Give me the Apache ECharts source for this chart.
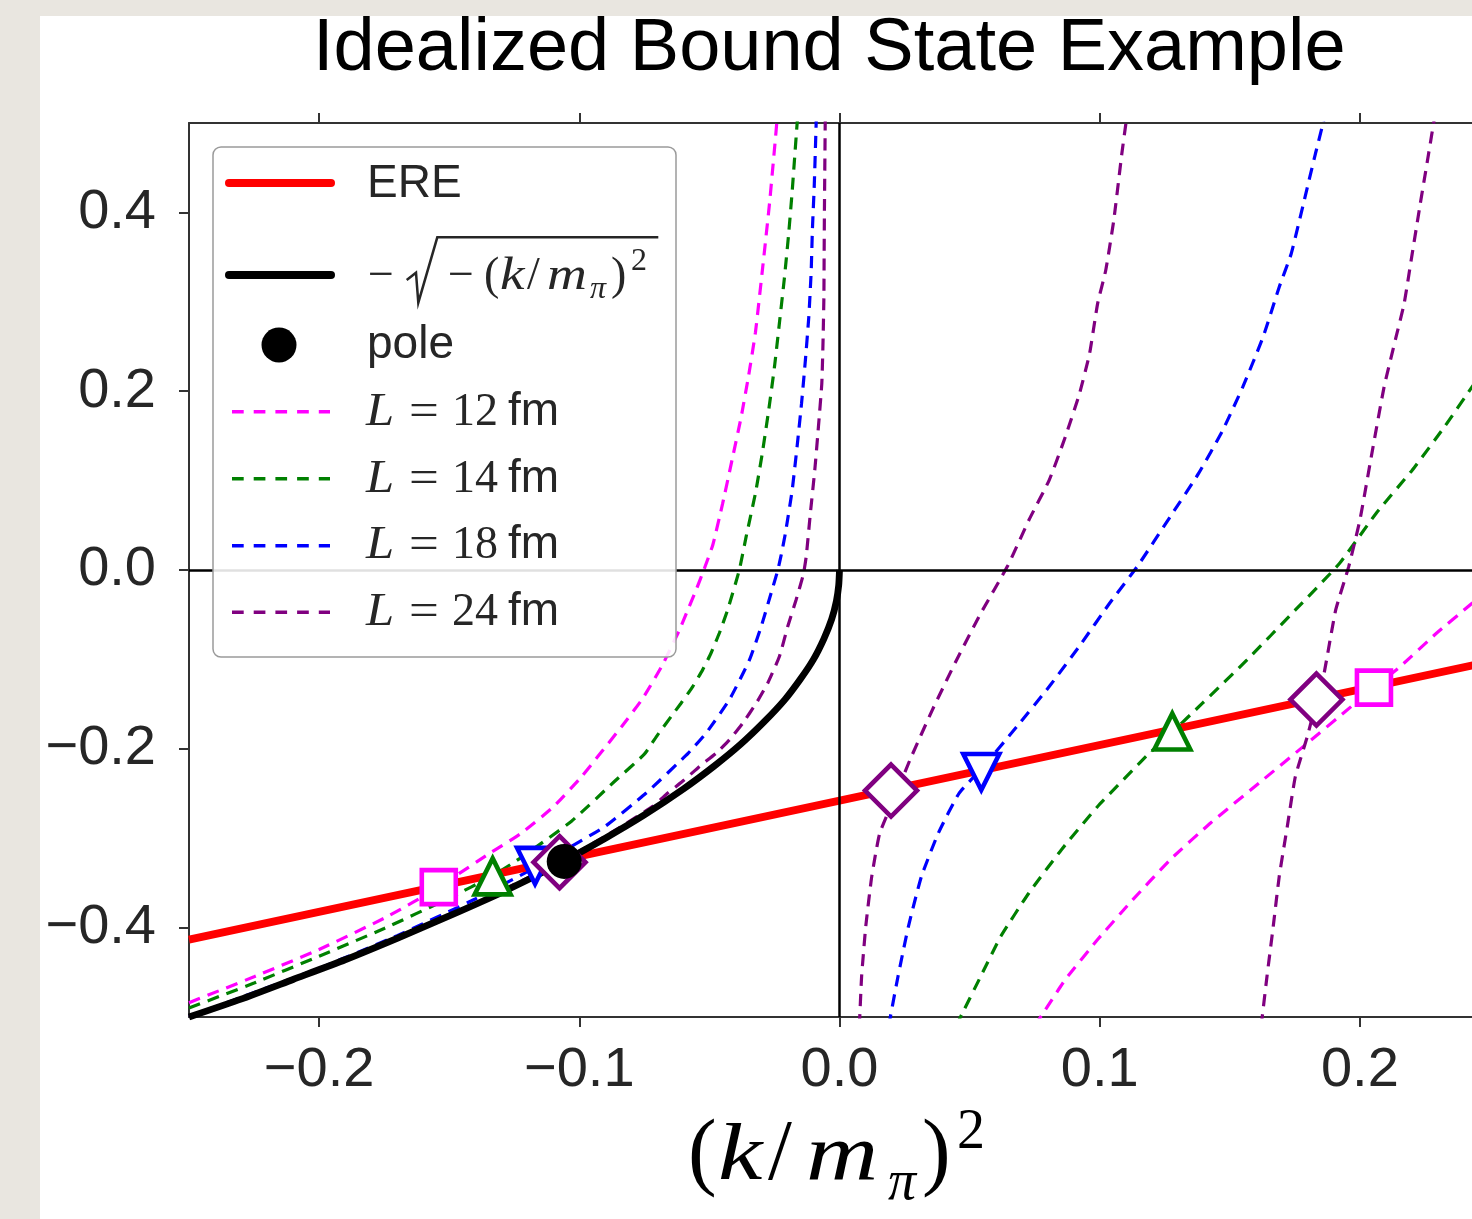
<!DOCTYPE html>
<html><head><meta charset="utf-8">
<script src="https://cdn.jsdelivr.net/npm/echarts@6/dist/echarts.min.js"></script>
<style>
html,body{margin:0;padding:0;width:1472px;height:1219px;overflow:hidden;background:#e9e6e0;}
#chart{position:absolute;left:40px;top:16px;width:1432px;height:1203px;}
</style></head><body><div id="chart"></div>
<script>
// ---- tick labels ----
const xTicks = [-0.2, -0.1, 0.0, 0.1, 0.2];
const yTicks = [-0.4, -0.2, 0.0, 0.2, 0.4];

// ---- ERE straight line ----
const ereX = [-0.25, 0.25];
const ereY = [-0.4135, -0.1025];

// ---- -sqrt(-(k/m_pi)^2) ----
const boundX = [-0.25,-0.23,-0.21,-0.19,-0.17,-0.15,-0.13,-0.11,-0.09,-0.075,-0.06,-0.048,-0.038,-0.029,-0.021,-0.015,-0.01,-0.006,-0.003,-0.0012,-0.0003,0];
const boundY = [-0.5,-0.48,-0.458,-0.436,-0.412,-0.387,-0.361,-0.332,-0.3,-0.274,-0.245,-0.219,-0.195,-0.17,-0.145,-0.122,-0.1,-0.077,-0.055,-0.035,-0.017,0];

// ---- pole ----
const poleX = [-0.1058];
const poleY = [-0.326];

// ---- L = 12 fm ----
const l12aX = [-0.25,-0.225,-0.2,-0.175,-0.1538,-0.1478,-0.135,-0.1222,-0.11,-0.0991,-0.0837,-0.0757,-0.068,-0.0615,-0.0583,-0.0551,-0.0519,-0.0487,-0.0449,-0.0413,-0.0378,-0.0349,-0.0323,-0.0295,-0.0269,-0.0244,-0.0237];
const l12aY = [-0.484,-0.455,-0.4245,-0.3895,-0.355,-0.3427,-0.318,-0.2942,-0.265,-0.231,-0.175,-0.144,-0.106,-0.067,-0.0447,-0.0223,0.002,0.028,0.0745,0.123,0.171,0.218,0.266,0.339,0.41,0.49,0.515];
const l12bX = [0.075,0.0775,0.0868,0.0992,0.1116,0.1271,0.1426,0.1628,0.1798,0.1945,0.2054,0.2155,0.2294,0.2431,0.25];
const l12bY = [-0.51,-0.499,-0.4581,-0.4134,-0.3724,-0.324,-0.283,-0.2346,-0.1937,-0.158,-0.1316,-0.108,-0.0708,-0.0372,-0.019];

// ---- L = 14 fm ----
const l14aX = [-0.25,-0.225,-0.2,-0.175,-0.15,-0.1333,-0.122,-0.103,-0.0863,-0.075,-0.0699,-0.0647,-0.0609,-0.0564,-0.0526,-0.0494,-0.0462,-0.043,-0.0385,-0.0359,-0.0323,-0.0297,-0.0272,-0.025,-0.0231,-0.0212,-0.0196,-0.0182,-0.0164,-0.016];
const l14aY = [-0.49,-0.462,-0.432,-0.401,-0.367,-0.342,-0.321,-0.281,-0.236,-0.206,-0.1844,-0.1639,-0.149,-0.1304,-0.1117,-0.0931,-0.0708,-0.0447,0,0.037,0.086,0.13,0.179,0.227,0.276,0.326,0.374,0.423,0.495,0.51];
const l14bX = [0.0448,0.0473,0.0543,0.062,0.0728,0.0853,0.0992,0.1178,0.128,0.1395,0.1566,0.1752,0.1922,0.2062,0.2201,0.2325,0.2431,0.25];
const l14bY = [-0.51,-0.4953,-0.4544,-0.4097,-0.3613,-0.3128,-0.2645,-0.2086,-0.181,-0.149,-0.1006,-0.0447,0.0075,0.0633,0.1117,0.1601,0.2048,0.232];

// ---- L = 18 fm ----
const l18aX = [-0.25,-0.2,-0.17,-0.14,-0.1165,-0.103,-0.0901,-0.0743,-0.0581,-0.0513,-0.0423,-0.0346,-0.0301,-0.0263,-0.0237,-0.0224,-0.0208,-0.0182,-0.0163,-0.0146,-0.0131,-0.0118,-0.0109,-0.0104,-0.0097,-0.009,-0.0089];
const l18aY = [-0.4995,-0.4455,-0.409,-0.368,-0.332,-0.309,-0.2868,-0.2495,-0.2048,-0.1825,-0.145,-0.1006,-0.0633,-0.026,0,0.017,0.041,0.089,0.138,0.186,0.235,0.283,0.333,0.382,0.43,0.497,0.51];
const l18bX = [0.0189,0.0196,0.0225,0.0265,0.0315,0.038,0.046,0.055,0.0682,0.0806,0.093,0.1038,0.1147,0.1271,0.138,0.1473,0.155,0.1628,0.169,0.1736,0.1783,0.1829,0.1857,0.1867];
const l18bY = [-0.51,-0.499,-0.4544,-0.3985,-0.3427,-0.2942,-0.2495,-0.221,-0.175,-0.1304,-0.0819,-0.0372,0.005,0.0596,0.108,0.1564,0.2048,0.2607,0.3166,0.3538,0.4097,0.4656,0.498,0.51];

// ---- L = 24 fm ----
const l24aX = [-0.25,-0.2,-0.15,-0.1077,-0.09,-0.0718,-0.066,-0.0596,-0.0538,-0.0474,-0.0423,-0.0372,-0.032,-0.0276,-0.0231,-0.0199,-0.0167,-0.0139,-0.0128,-0.0112,-0.0095,-0.0081,-0.0068,-0.0063,-0.006,-0.0059,-0.0058,-0.0055,-0.0054];
const l24aY = [-0.4995,-0.4469,-0.3866,-0.3268,-0.2978,-0.2644,-0.2495,-0.2346,-0.2197,-0.2048,-0.19,-0.1713,-0.149,-0.1266,-0.0968,-0.0633,-0.0335,-0.005,0.0149,0.0633,0.1117,0.16,0.2086,0.259,0.305,0.354,0.4,0.497,0.52];
const l24bX = [0.0076,0.0078,0.0085,0.0101,0.0124,0.0155,0.0223,0.0271,0.0357,0.045,0.0543,0.0647,0.0728,0.0806,0.0868,0.0922,0.0961,0.0992,0.1023,0.1054,0.1085,0.110,0.1106];
const l24bY = [-0.51,-0.499,-0.4544,-0.3985,-0.3427,-0.2942,-0.2466,-0.2123,-0.1564,-0.1006,-0.0484,0.005,0.0559,0.1006,0.149,0.197,0.242,0.298,0.335,0.391,0.4656,0.498,0.51];
const l24cX = [0.162,0.1625,0.1643,0.1667,0.169,0.1721,0.1752,0.1798,0.1833,0.186,0.1907,0.1957,0.2,0.2046,0.2093,0.2139,0.217,0.2201,0.2232,0.2264,0.2289];
const l24cY = [-0.51,-0.499,-0.4544,-0.3985,-0.3427,-0.2868,-0.231,-0.1862,-0.147,-0.1192,-0.0447,0.0037,0.0559,0.1304,0.2048,0.2607,0.298,0.3538,0.4097,0.4656,0.51];

// ---- intersection markers ----
const mk12X = [-0.154, 0.2054];           const mk12Y = [-0.3547, -0.1316];
const mk14X = [-0.1333, 0.1279];          const mk14Y = [-0.3427, -0.1806];
const mk18X = [-0.117, 0.0545];           const mk18Y = [-0.331, -0.2259];
const mk24X = [-0.1076, 0.0198, 0.1833];  const mk24Y = [-0.3268, -0.2467, -0.1449];

// ---- colours ----
const C12 = '#ff00ff', C14 = '#008000', C18 = '#0000ff', C24 = '#800080';

const zip = (xs, ys) => xs.map((x, i) => [x, ys[i]]);
const SANS = '"Liberation Sans", Arial, Helvetica, sans-serif';
const SERIF = '"Liberation Serif", "Times New Roman", serif';
const TXT = '#262626';
const OX = 40, OY = 16;
const P = (x) => x - OX, Q = (y) => y - OY;

function dashed(name, xs, ys, color) {
  return { name, type: 'line', data: zip(xs, ys), showSymbol: false, symbol: 'none',
    smooth: 0.15, clip: true, silent: true,
    lineStyle: { color, width: 3.2, type: [12, 8] }, z: 2 };
}
function markers(name, xs, ys, symbol, size, color, rotate) {
  return { name, type: 'scatter', data: zip(xs, ys), symbol, symbolSize: size,
    symbolRotate: rotate || 0, silent: true, z: 5,
    itemStyle: { color: '#ffffff', borderColor: color, borderWidth: 4.6, borderJoin: 'miter', opacity: 1 } };
}
const fmt = (v) => (Math.abs(v) < 1e-9 ? '0.0' : (v < 0 ? '\u2212' + Math.abs(v).toFixed(1) : v.toFixed(1)));

// ---- legend & axis-title graphics (page coordinates converted) ----
function txt(text, x, base, size, font, opts) {
  const o = opts || {};
  const k = font === SANS ? 0.3465 : 0.3375;
  const el = { type: 'text', x: P(x), y: Q(base - k * size), z: o.z || 100, silent: true,
    style: { text, font: (o.italic ? 'italic ' : '') + size + 'px ' + font, fill: o.fill || TXT,
      align: 'left', textAlign: 'left', verticalAlign: 'middle', textVerticalAlign: 'middle' } };
  if (o.sx) { el.scaleX = o.sx; }
  return el;
}
const LEG = { x: 213, y: 147, w: 463, h: 510 };
const rowsL = [ ['12', C12, 411.7, 428], ['14', C14, 478.7, 495], ['18', C18, 545.7, 561.7], ['24', C24, 612.3, 628.3] ];
const graphics = [
  { type: 'rect', z: 99, silent: true, shape: { x: P(LEG.x), y: Q(LEG.y), width: LEG.w, height: LEG.h, r: 8 },
    style: { fill: 'rgba(255,255,255,0.88)', stroke: '#9a9a9a', lineWidth: 1.5 } },
  { type: 'line', z: 100, silent: true, shape: { x1: P(229), y1: Q(183), x2: P(331), y2: Q(183) },
    style: { stroke: '#ff0000', lineWidth: 8, lineCap: 'round' } },
  txt('ERE', 367, 200, 46, SANS),
  { type: 'line', z: 100, silent: true, shape: { x1: P(229), y1: Q(275), x2: P(331), y2: Q(275) },
    style: { stroke: '#000000', lineWidth: 8, lineCap: 'round' } },
  txt('\u2212', 368, 292, 46, SERIF),
  { type: 'polyline', z: 100, silent: true,
    shape: { points: [[P(406.7), Q(280)], [P(416), Q(272.7)], [P(418.3), Q(302.7)], [P(437.3), Q(237.3)], [P(658.3), Q(237.3)]] },
    style: { stroke: TXT, lineWidth: 2.5, fill: null, lineJoin: 'miter' } },
  txt('\u2212', 448, 292, 46, SERIF),
  txt('(', 484, 292, 46, SERIF),
  txt('k', 500, 292, 46, SERIF, { italic: true, sx: 1.2 }),
  txt('/', 527, 292, 46, SERIF),
  txt('m', 547, 292, 46, SERIF, { italic: true, sx: 1.2 }),
  txt('\u03c0', 590, 300, 32, SERIF, { italic: true }),
  txt(')', 611, 292, 46, SERIF),
  txt('2', 631, 272, 32, SERIF),
  { type: 'circle', z: 100, silent: true, shape: { cx: P(279), cy: Q(345), r: 17.5 }, style: { fill: '#000000' } },
  txt('pole', 367, 361, 46, SANS)
];
rowsL.forEach(([lab, col, ly, base]) => {
  graphics.push({ type: 'line', z: 100, silent: true, shape: { x1: P(232), y1: Q(ly), x2: P(330), y2: Q(ly) },
    style: { stroke: col, lineWidth: 3.5, lineDash: [11.7, 10] } });
  graphics.push(txt('L', 366, base, 46, SERIF, { italic: true, sx: 1.1 }));
  graphics.push(txt('=', 409, base, 46, SERIF, { sx: 1.15 }));
  graphics.push(txt(lab, 452, base, 46, SERIF));
  graphics.push(txt('fm', 508, base, 46, SANS));
});
// x-axis title (k/m_pi)^2
graphics.push(txt('(', 688, 1185, 86, SERIF, { z: 10, fill: '#000' }));
graphics.push(txt('k', 718, 1185, 80, SERIF, { italic: true, z: 10, fill: '#000', sx: 1.25 }));
graphics.push(txt('/', 768, 1185, 86, SERIF, { z: 10, fill: '#000' }));
graphics.push(txt('m', 806, 1185, 80, SERIF, { italic: true, z: 10, fill: '#000', sx: 1.25 }));
graphics.push(txt('\u03c0', 888, 1203, 56, SERIF, { italic: true, z: 10, fill: '#000' }));
graphics.push(txt(')', 922, 1185, 86, SERIF, { z: 10, fill: '#000' }));
graphics.push(txt('2', 957, 1152, 56, SERIF, { z: 10, fill: '#000' }));

const axisCommon = {
  type: 'value', min: -0.25, max: 0.25,
  axisLine: { show: true, onZero: false, lineStyle: { color: '#333333', width: 2 } },
  axisTick: { show: true, inside: false, length: 10, customValues: xTicks, lineStyle: { color: '#333333', width: 2 } },
  splitLine: { show: false }, minorTick: { show: false }
};

const option = {
  animation: false,
  backgroundColor: '#ffffff',
  title: { text: 'Idealized Bound State Example', left: P(313), top: 14, padding: 0,
    textStyle: { fontFamily: SANS, fontSize: 74, fontWeight: 'normal', color: '#000000', lineHeight: 40 } },
  grid: { left: P(189), top: Q(123), width: 1301, height: 894, outerBoundsMode: 'none', containLabel: false },
  xAxis: [
    Object.assign({}, axisCommon, { position: 'bottom',
      axisLabel: { show: true, customValues: xTicks, formatter: fmt, fontFamily: SANS, fontSize: 56, lineHeight: 56, color: TXT, margin: 26 } }),
    Object.assign({}, axisCommon, { position: 'top', axisLabel: { show: false } })
  ],
  yAxis: [{
    type: 'value', min: -0.5, max: 0.5, position: 'left',
    axisLine: { show: true, onZero: false, lineStyle: { color: '#333333', width: 2 } },
    axisTick: { show: true, inside: false, length: 10, customValues: yTicks, lineStyle: { color: '#333333', width: 2 } },
    axisLabel: { show: true, customValues: yTicks, formatter: fmt, fontFamily: SANS, fontSize: 56, color: TXT, margin: 33 },
    splitLine: { show: false }
  }],
  graphic: { elements: graphics },
  series: [
    dashed('L = 12 fm', l12aX, l12aY, C12),
    dashed('L = 12 fm', l12bX, l12bY, C12),
    dashed('L = 14 fm', l14aX, l14aY, C14),
    dashed('L = 14 fm', l14bX, l14bY, C14),
    dashed('L = 18 fm', l18aX, l18aY, C18),
    dashed('L = 18 fm', l18bX, l18bY, C18),
    dashed('L = 24 fm', l24aX, l24aY, C24),
    dashed('L = 24 fm', l24bX, l24bY, C24),
    dashed('L = 24 fm', l24cX, l24cY, C24),
    { name: 'ERE', type: 'line', data: zip(ereX, ereY), showSymbol: false, symbol: 'none', silent: true, z: 3,
      lineStyle: { color: '#ff0000', width: 7.8 },
      markLine: { silent: true, symbol: ['none', 'none'], label: { show: false },
        lineStyle: { color: '#000000', width: 2.5, type: 'solid' },
        data: [{ xAxis: 0 }, { yAxis: 0 }] } },
    { name: 'bound', type: 'line', data: zip(boundX, boundY), showSymbol: false, symbol: 'none', silent: true, z: 3,
      smooth: 0.2, lineStyle: { color: '#000000', width: 6.8 } },
    markers('L = 12 fm marks', mk12X, mk12Y, 'rect', 34, C12),
    markers('L = 14 fm marks', mk14X, mk14Y, 'triangle', 36, C14),
    markers('L = 18 fm marks', mk18X, mk18Y, 'triangle', 36, C18, 180),
    markers('L = 24 fm marks', mk24X, mk24Y, 'diamond', 52, C24),
    { name: 'pole', type: 'scatter', data: zip(poleX, poleY), symbol: 'circle', symbolSize: 35, silent: true, z: 6,
      itemStyle: { color: '#000000', opacity: 1 } }
  ]
};
const chart = echarts.init(document.getElementById('chart'), null, { renderer: 'canvas' });
chart.setOption(option);
</script></body></html>
